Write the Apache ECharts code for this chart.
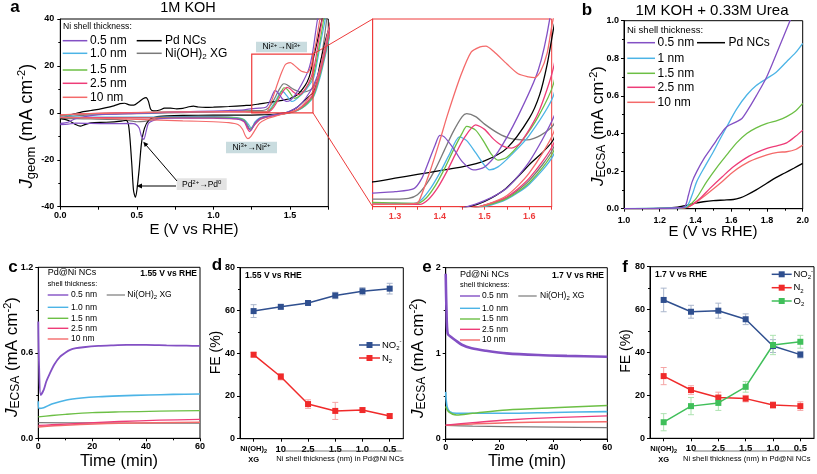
<!DOCTYPE html>
<html><head><meta charset="utf-8">
<script src="https://cdn.jsdelivr.net/npm/echarts@6/dist/echarts.min.js"></script>
<style>html,body{margin:0;padding:0;background:#fff}#c{width:817px;height:474px}</style>
</head><body><div id="c"></div>
<script>
// ---------------- DATA ----------------
// Panel a: CV curves (E in V vs RHE, J in mA cm-2), forward and reverse scans
const cvPdFwd = [[0,-1.8],[0.05,-1.2],[0.1,-0.3],[0.15,0.5],[0.2,1.0],[0.25,1.5],[0.3,2.2],[0.35,3.0],[0.39,3.9],[0.42,4.1],[0.45,3.4],[0.48,3.3],[0.51,4.5],[0.54,6.0],[0.56,6.5],[0.575,5.0],[0.59,1.5],[0.61,0.8],[0.65,1.2],[0.68,2.0],[0.72,2.0],[0.76,1.7],[0.8,1.9],[0.84,2.6],[0.87,2.9],[0.9,2.5],[0.95,2.3],[1.0,2.4],[1.1,2.7],[1.2,3.1],[1.25,3.3],[1.3,3.8],[1.35,4.3],[1.4,4.8],[1.45,5.3],[1.5,6.1],[1.55,7.8],[1.6,11.8],[1.623,14.9],[1.64,19],[1.655,24],[1.68,31],[1.71,40],[1.8,60]];
const cvPdRev = [[1.8,45],[1.74,33],[1.7,22],[1.655,9.1],[1.6,5.6],[1.547,2.4],[1.5,0.7],[1.465,0],[1.4,-0.6],[1.3,-0.9],[1.2,-1.0],[1.0,-1.0],[0.8,-1.1],[0.7,-1.3],[0.62,-1.8],[0.58,-3.0],[0.55,-6.5],[0.53,-13],[0.515,-24],[0.5,-33],[0.49,-36],[0.478,-33],[0.467,-22],[0.455,-11],[0.445,-5],[0.43,-3.2],[0.4,-3.5],[0.3,-4.0],[0.2,-4.3],[0.16,-5.0],[0.13,-5.7],[0.1,-5.0],[0.06,-3.5],[0.03,-2.8],[0,-2.5]];
const cvXgFwd = [[0,-2.0],[0.1,-1.3],[0.2,-0.9],[0.4,-0.5],[0.6,-0.2],[0.8,0.1],[1.0,0.4],[1.1,0.6],[1.2,0.9],[1.25,1.0],[1.3,1.0],[1.33,1.1],[1.35,1.6],[1.37,3.0],[1.39,5.0],[1.41,7.5],[1.43,10],[1.45,12],[1.46,12.4],[1.48,12.0],[1.5,11.0],[1.53,9.8],[1.557,9.1],[1.595,8.9],[1.625,9.5],[1.655,11],[1.69,18],[1.72,30],[1.74,40],[1.8,65]];
const cvXgRev = [[1.8,45],[1.75,33],[1.7,18],[1.655,8],[1.6,3.5],[1.55,1.2],[1.5,0.2],[1.45,-0.5],[1.4,-1.0],[1.35,-1.8],[1.3,-3.0],[1.27,-5.0],[1.25,-6.5],[1.235,-7],[1.22,-5.5],[1.2,-3.5],[1.15,-2.2],[1.1,-1.8],[1.0,-1.6],[0.8,-1.6],[0.65,-2.0],[0.6,-3.0],[0.55,-3.6],[0.5,-3.8],[0.45,-3.3],[0.35,-2.8],[0.2,-2.6],[0.1,-2.5],[0,-2.4]];
const cv05Fwd = [[0,-4.5],[0.05,-4.0],[0.1,-2.5],[0.2,-1.2],[0.3,-0.6],[0.5,-0.2],[0.7,0.2],[0.9,0.6],[1.1,1.0],[1.2,1.3],[1.25,1.8],[1.3,2.0],[1.342,2.4],[1.36,3.8],[1.375,6.0],[1.39,8.3],[1.40,9.5],[1.41,9.3],[1.43,7.8],[1.45,6.0],[1.475,4.9],[1.5,5.3],[1.53,7.3],[1.575,12.1],[1.62,18.2],[1.647,25.5],[1.68,40],[1.8,80]];
const cv05Rev = [[1.8,50],[1.75,35],[1.7,20],[1.655,12],[1.6,6],[1.55,2.5],[1.5,0.8],[1.45,-0.2],[1.4,-0.8],[1.35,-1.5],[1.3,-2.5],[1.27,-4.5],[1.25,-7.0],[1.24,-7.5],[1.225,-6],[1.2,-3.5],[1.15,-2.6],[1.0,-2.2],[0.8,-2.2],[0.65,-2.5],[0.6,-3.5],[0.575,-4.5],[0.56,-8],[0.545,-11.3],[0.53,-10],[0.515,-6.5],[0.49,-4.8],[0.46,-4.5],[0.3,-4.6],[0.1,-4.4],[0.05,-4.8],[0,-5.0]];
const cv10Fwd = [[0,-1.5],[0.1,-0.8],[0.3,-0.3],[0.6,0.1],[0.9,0.4],[1.1,0.5],[1.2,0.5],[1.3,0.45],[1.342,0.45],[1.36,1.0],[1.38,2.5],[1.40,4.5],[1.42,6.8],[1.444,9.3],[1.46,8.8],[1.48,7.2],[1.5,5.5],[1.511,4.9],[1.53,5.3],[1.56,6.9],[1.6,9.5],[1.655,15],[1.7,30],[1.73,40],[1.8,75]];
const cv10Rev = [[1.8,45],[1.75,30],[1.7,16],[1.655,7],[1.6,3],[1.55,1.0],[1.5,0],[1.45,-0.5],[1.4,-0.9],[1.35,-1.3],[1.3,-2.2],[1.27,-4],[1.255,-6],[1.245,-6.3],[1.23,-5],[1.2,-2.8],[1.15,-2.0],[1.0,-1.8],[0.7,-1.8],[0.4,-1.8],[0.2,-1.8],[0,-1.7]];
const cv15Fwd = [[0,-1.2],[0.1,-0.6],[0.3,-0.2],[0.6,0.2],[0.9,0.5],[1.2,0.6],[1.3,0.5],[1.35,0.45],[1.37,1.2],[1.39,2.8],[1.41,5],[1.43,7.5],[1.45,9.8],[1.46,10.7],[1.48,10.2],[1.5,8.5],[1.515,7],[1.53,6.2],[1.55,6.6],[1.58,8.5],[1.62,12],[1.655,16.6],[1.7,32],[1.72,40],[1.8,75]];
const cv15Rev = [[1.8,45],[1.75,31],[1.7,17],[1.655,7.5],[1.6,3.2],[1.55,1.1],[1.5,0.1],[1.45,-0.5],[1.4,-1.0],[1.35,-1.5],[1.3,-2.5],[1.27,-4.5],[1.25,-6.5],[1.24,-7],[1.225,-5.5],[1.2,-3],[1.15,-2.2],[1.0,-2],[0.7,-2],[0.4,-2],[0,-2]];
const cv25Fwd = [[0,-1.0],[0.1,-0.5],[0.3,-0.1],[0.6,0.2],[0.9,0.4],[1.2,0.4],[1.3,0.3],[1.355,0.3],[1.375,1.0],[1.395,2.5],[1.415,4.6],[1.435,7],[1.455,9.2],[1.48,10.9],[1.5,10.3],[1.52,9],[1.54,8.1],[1.56,7.8],[1.58,8.5],[1.62,12.5],[1.655,18.8],[1.69,32],[1.71,40],[1.8,80]];
const cv25Rev = [[1.8,48],[1.75,32],[1.7,18],[1.655,8.5],[1.6,3.8],[1.55,1.3],[1.5,0.2],[1.45,-0.5],[1.4,-1.1],[1.35,-1.7],[1.3,-2.8],[1.27,-5],[1.245,-7.5],[1.235,-8],[1.22,-6.5],[1.2,-3.8],[1.15,-2.6],[1.0,-2.3],[0.7,-2.2],[0.4,-2.1],[0,-2.0]];
const cv100Fwd = [[0,-0.8],[0.2,-0.3],[0.5,0.1],[0.8,0.4],[1.1,0.5],[1.25,0.35],[1.3,0.3],[1.342,0.4],[1.353,0.7],[1.378,4.7],[1.399,8.6],[1.417,12.2],[1.447,17.5],[1.47,20.6],[1.49,21.3],[1.503,21.4],[1.52,20.7],[1.55,19],[1.575,17.7],[1.598,17.3],[1.612,17.2],[1.625,18],[1.64,20.5],[1.65,24],[1.67,30],[1.695,40],[1.8,80]];
const cv100Rev = [[1.8,50],[1.75,35],[1.7,20],[1.655,10],[1.6,4.5],[1.55,1.5],[1.5,0.2],[1.45,-0.6],[1.4,-1.5],[1.35,-2.5],[1.3,-4.5],[1.27,-7.5],[1.245,-10],[1.225,-11],[1.21,-10],[1.19,-7],[1.16,-5],[1.1,-4.2],[1.0,-3.8],[0.8,-3.4],[0.6,-3.0],[0.4,-2.6],[0.2,-2.2],[0,-1.8]];

// Panel b: LSV with urea (E, J_ECSA)
const lsvPd = [[1.0,0],[1.2,0.002],[1.3,0.008],[1.341,0.016],[1.4,0.03],[1.444,0.037],[1.5,0.043],[1.56,0.046],[1.612,0.049],[1.65,0.058],[1.687,0.073],[1.74,0.1],[1.799,0.135],[1.85,0.165],[1.9,0.19],[1.95,0.215],[2.0,0.241]];
const lsv05 = [[1.0,0],[1.2,0.001],[1.3,0.005],[1.34,0.012],[1.36,0.07],[1.38,0.14],[1.407,0.197],[1.45,0.27],[1.5,0.339],[1.54,0.395],[1.575,0.436],[1.631,0.463],[1.66,0.48],[1.687,0.516],[1.74,0.6],[1.799,0.702],[1.86,0.84],[1.929,1.0],[1.96,1.07]];
const lsv10 = [[1.0,0],[1.3,0.005],[1.35,0.012],[1.38,0.07],[1.407,0.144],[1.45,0.22],[1.5,0.303],[1.54,0.375],[1.575,0.436],[1.63,0.53],[1.687,0.605],[1.74,0.655],[1.8,0.693],[1.85,0.725],[1.91,0.782],[1.96,0.83],[2.0,0.88]];
const lsv15 = [[1.0,0],[1.3,0.004],[1.35,0.01],[1.4,0.05],[1.463,0.144],[1.52,0.22],[1.575,0.286],[1.63,0.35],[1.687,0.40],[1.74,0.43],[1.8,0.454],[1.86,0.47],[1.91,0.49],[1.96,0.52],[2.0,0.56]];
const lsv25 = [[1.0,0],[1.3,0.003],[1.36,0.01],[1.42,0.05],[1.481,0.108],[1.55,0.17],[1.612,0.223],[1.7,0.28],[1.8,0.321],[1.86,0.335],[1.91,0.35],[1.96,0.385],[2.0,0.418]];
const lsv100 = [[1.0,0],[1.3,0.003],[1.36,0.01],[1.42,0.045],[1.48,0.09],[1.55,0.145],[1.612,0.197],[1.7,0.25],[1.8,0.286],[1.86,0.3],[1.91,0.303],[1.96,0.315],[2.0,0.339]];

// Panel c: chronoamperometry at 1.55 V (t min, J_ECSA)
const ca155_05 = [[0,0.82],[0.3,0.5],[0.9,0.304],[2,0.34],[3,0.40],[4.3,0.456],[6,0.52],[8.1,0.573],[10,0.60],[11.8,0.62],[14,0.632],[16.7,0.639],[22.3,0.648],[27,0.652],[32.8,0.655],[40,0.655],[47.6,0.652],[55,0.65],[60,0.648]];
const ca155_10 = [[0,0.26],[0.3,0.21],[2,0.215],[5,0.24],[10.5,0.269],[16,0.283],[22.3,0.292],[30,0.298],[40.9,0.304],[50,0.308],[60,0.311]];
const ca155_15 = [[0,0.15],[5,0.16],[10,0.168],[20,0.18],[30,0.185],[45,0.19],[60,0.194]];
const ca155_25 = [[0,0.09],[5,0.095],[15,0.105],[30,0.118],[45,0.127],[60,0.133]];
const ca155_100 = [[0,0.08],[10,0.092],[30,0.105],[60,0.112]];
const ca155_xg = [[0,0.11],[20,0.108],[40,0.107],[60,0.106]];

// Panel e: chronoamperometry at 1.7 V
const ca17_05 = [[0,1.93],[0.3,1.5],[0.74,1.23],[2,1.19],[3.45,1.156],[6,1.10],[9.65,1.059],[15,1.03],[22.7,1.0],[34.4,0.98],[45,0.97],[60,0.96]];
const ca17_10 = [[0,0.55],[0.5,0.38],[1.5,0.32],[4,0.30],[10,0.30],[22.7,0.30],[40,0.31],[60,0.32]];
const ca17_15 = [[0,0.38],[1,0.32],[4,0.28],[10,0.30],[22.7,0.34],[40,0.365],[60,0.39]];
const ca17_25 = [[0,0.163],[10,0.19],[22.7,0.222],[40,0.25],[60,0.27]];
const ca17_100 = [[0,0.16],[10,0.175],[22.7,0.19],[40,0.198],[60,0.20]];
const ca17_xg = [[0,0.16],[10,0.15],[22.7,0.144],[40,0.138],[60,0.132]];

// Panels d, f: Faradaic efficiency
const feCats = ['Ni(OH)2 XG','10','2.5','1.5','1.0','0.5'];
const feD_NO2 = [59.7,61.7,63.5,67.0,69.0,70.2];
const feD_NO2err = [3,1,1,1.5,1.7,2.5];
const feD_N2 = [39.3,29.0,16.2,13.0,13.4,10.6];
const feD_N2err = [1,1.5,2,4,1,1];
const feF_NO2 = [64.5,59,59.5,55.5,43,39];
const feF_NO2err = [5.5,3,3.5,2.5,3,1.5];
const feF_N2 = [29,22.5,19,18.5,15.5,15];
const feF_N2err = [4,2,2.5,1.5,1.5,2];
const feF_O2 = [7.5,15,16.5,24,43.5,45];
const feF_O2err = [4,4,3.5,2.5,4.5,3];

// ---------------- STYLE ----------------
const FONT = 'Liberation Sans, Arial, Helvetica, sans-serif';
const C05='#8350c4', C10='#4cb4e6', C15='#6cbf45', C25='#ee3c78', C100='#f46a6a', CPD='#000000', CXG='#7a7a7a';
const CNO2='#2f4f8f', CN2='#f02a2a', CO2='#40bf5a';
const ENO2='#aab6cc', EN2='#f5a5a5', EO2='#ade3b0';
const RED='#ee3b3b';

const G = {
  a:{left:60.3, top:19, width:268, height:187.7},
  i:{left:372.7, top:19, width:179, height:187.7},
  b:{left:624, top:20.7, width:178.7, height:188},
  c:{left:38.3, top:267.3, width:161.7, height:171},
  d:{left:240, top:267.7, width:163.3, height:171},
  e:{left:445.7, top:267.7, width:161.6, height:171.3},
  f:{left:650, top:266.7, width:164, height:171.6}
};
const order = ['a','i','b','c','d','e','f'];
const grids = order.map(k => Object.assign({show:true, borderColor: k==='i'?RED:'#000', borderWidth:1, backgroundColor:'transparent', containLabel:false}, G[k]));

const lblBase = {color:'#000', fontWeight:'bold', fontSize:9, fontFamily:FONT};
function vAxis(gi, o) {
  return Object.assign({
    gridIndex:gi, type:'value',
    axisLine:{show:true, onZero:false, lineStyle:{color:'#000', width:1}},
    axisTick:{show:true, length:3, lineStyle:{color:'#000'}},
    minorTick:{show:true, splitNumber:2, length:2, lineStyle:{color:'#000'}},
    splitLine:{show:false}, minorSplitLine:{show:false},
    axisLabel:Object.assign({margin:4}, lblBase)
  }, o);
}
const isMult = (v, s) => Math.abs(v/s - Math.round(v/s)) < 1e-6;

const catLabel = {
  margin:5, fontFamily:FONT, color:'#000', interval:0, hideOverlap:false,
  formatter:(v,i)=> i===0 ? '{s|Ni(OH)}{ss|2}\n{s|XG}' : '{b|'+v+'}',
  rich:{
    s:{fontSize:7.5, fontWeight:'bold', fontFamily:FONT, color:'#000', lineHeight:11},
    ss:{fontSize:5.5, fontWeight:'bold', fontFamily:FONT, color:'#000', lineHeight:11, verticalAlign:'bottom'},
    b:{fontSize:9.5, fontWeight:'bold', fontFamily:FONT, color:'#000', lineHeight:11}
  }
};
function cAxis(gi){
  return {gridIndex:gi, type:'category', data:feCats, boundaryGap:true,
    axisLine:{show:true, lineStyle:{color:'#000'}},
    axisTick:{show:true, alignWithLabel:true, interval:0, length:3, lineStyle:{color:'#000'}},
    axisLabel:catLabel, splitLine:{show:false}};
}

const xAxes = [
  vAxis(0,{min:0,max:1.75,interval:0.25,minorTick:{show:false},axisLabel:Object.assign({margin:4, formatter:v=>isMult(v,0.5)?v.toFixed(1):''},lblBase)}),
  vAxis(1,{min:1.25,max:1.65,interval:0.05,minorTick:{show:false},
    axisLine:{show:true,onZero:false,lineStyle:{color:RED}}, axisTick:{show:true,length:3,lineStyle:{color:RED}},
    axisLabel:Object.assign({}, lblBase, {color:RED, margin:5, formatter:v=>isMult(v,0.1)?v.toFixed(1):''})}),
  vAxis(2,{min:1,max:2,interval:0.2,axisLabel:Object.assign({margin:7, formatter:v=>v.toFixed(1)},lblBase)}),
  vAxis(3,{min:0,max:60,interval:20}),
  cAxis(4),
  vAxis(5,{min:0,max:60,interval:20}),
  cAxis(6)
];
const yAxes = [
  vAxis(0,{min:-40,max:40,interval:20,axisLabel:Object.assign({margin:6},lblBase)}),
  vAxis(1,{min:0,max:25,axisLine:{show:true,lineStyle:{color:RED}},axisTick:{show:false},minorTick:{show:false},axisLabel:{show:false}}),
  vAxis(2,{min:0,max:1,interval:0.2,axisLabel:Object.assign({margin:5, formatter:v=>v.toFixed(1)},lblBase)}),
  vAxis(3,{min:0,max:1.2,interval:0.6,axisLabel:Object.assign({margin:5, formatter:v=>v.toFixed(1)},lblBase)}),
  vAxis(4,{min:0,max:80,interval:20,axisLabel:Object.assign({margin:5},lblBase)}),
  vAxis(5,{min:0,max:2,interval:1,axisLabel:Object.assign({margin:5},lblBase)}),
  vAxis(6,{min:0,max:80,interval:20,axisLabel:Object.assign({margin:5},lblBase)})
];

function ln(ax, data, color, w, sm) {
  return {type:'line', xAxisIndex:ax, yAxisIndex:ax, data:data, showSymbol:false, symbol:'none',
    smooth: sm===undefined?0.3:sm, clip:true, lineStyle:{color:color, width:w||1.2}, itemStyle:{color:color},
    animation:false, silent:true, z:3};
}
const cvList = [
  [cvXgFwd,cvXgRev,CXG],[cvPdFwd,cvPdRev,CPD],[cv10Fwd,cv10Rev,C10],[cv15Fwd,cv15Rev,C15],
  [cv25Fwd,cv25Rev,C25],[cv05Fwd,cv05Rev,C05],[cv100Fwd,cv100Rev,C100]
];
const series = [];
cvList.forEach(c => { const d = c[0].concat(c[1]); series.push(ln(0,d,c[2],1.2,0.25)); series.push(ln(1,d,c[2],1.3,0.25)); });
[[lsvPd,CPD],[lsv100,C100],[lsv25,C25],[lsv15,C15],[lsv10,C10],[lsv05,C05]].forEach(s=>series.push(ln(2,s[0],s[1],1.3)));
[[ca155_xg,CXG,1.2],[ca155_100,C100,1.5],[ca155_25,C25,1.3],[ca155_15,C15,1.3],[ca155_10,C10,1.6],[ca155_05,C05,1.8]].forEach(s=>series.push(ln(3,s[0],s[1],s[2])));
[[ca17_xg,CXG,1.2],[ca17_100,C100,1.5],[ca17_25,C25,1.3],[ca17_10,C10,1.6],[ca17_15,C15,1.5],[ca17_05,C05,2.6]].forEach(s=>series.push(ln(5,s[0],s[1],s[2])));

function errS(ax, vals, errs, color){
  return {type:'custom', xAxisIndex:ax, yAxisIndex:ax, silent:true, animation:false, z:2,
    data: vals.map((v,i)=>[i, v-errs[i], v+errs[i]]),
    renderItem:(p, api)=>{
      const x=api.value(0), p1=api.coord([x,api.value(1)]), p2=api.coord([x,api.value(2)]), w=3;
      const st={stroke:color, lineWidth:1};
      return {type:'group', children:[
        {type:'line', shape:{x1:p1[0],y1:p1[1],x2:p2[0],y2:p2[1]}, style:st},
        {type:'line', shape:{x1:p1[0]-w,y1:p1[1],x2:p1[0]+w,y2:p1[1]}, style:st},
        {type:'line', shape:{x1:p2[0]-w,y1:p2[1],x2:p2[0]+w,y2:p2[1]}, style:st}
      ]};
    }};
}
function feS(ax, vals, color){
  return {type:'line', xAxisIndex:ax, yAxisIndex:ax, data:vals, symbol:'rect', symbolSize:6, showSymbol:true,
    lineStyle:{color:color,width:1.5}, itemStyle:{color:color}, animation:false, silent:true, z:4};
}
series.push(errS(4,feD_NO2,feD_NO2err,ENO2), errS(4,feD_N2,feD_N2err,EN2));
series.push(feS(4,feD_NO2,CNO2), feS(4,feD_N2,CN2));
series.push(errS(6,feF_NO2,feF_NO2err,ENO2), errS(6,feF_N2,feF_N2err,EN2), errS(6,feF_O2,feF_O2err,EO2));
series.push(feS(6,feF_NO2,CNO2), feS(6,feF_N2,CN2), feS(6,feF_O2,CO2));

// ---------------- GRAPHICS (text, legends, annotations) ----------------
const gr = [];
function T(x,y,text,o){ gr.push({type:'text', x:x, y:y, z:100, silent:true, style:Object.assign({text:text, fill:'#000', fontFamily:FONT, fontSize:12, align:'left', verticalAlign:'middle'}, o||{})}); }
function L(x1,y1,x2,y2,c,w){ gr.push({type:'line', z:100, silent:true, shape:{x1:x1,y1:y1,x2:x2,y2:y2}, style:{stroke:c, lineWidth:w||1.3}}); }
function P(pts,c){ gr.push({type:'polygon', z:100, silent:true, shape:{points:pts}, style:{fill:c}}); }
function SQ(x,y,c){ gr.push({type:'rect', z:101, silent:true, shape:{x:x-3,y:y-3,width:6,height:6}, style:{fill:c}}); }
const subRich = (fs) => ({
  n:{fontSize:fs, fontFamily:FONT, fill:'#000', lineHeight:fs+3},
  s:{fontSize:Math.round(fs*0.68), fontFamily:FONT, fill:'#000', lineHeight:fs+3, verticalAlign:'bottom'},
  p:{fontSize:Math.round(fs*0.68), fontFamily:FONT, fill:'#000', lineHeight:fs+3, verticalAlign:'top'},
  j:{fontSize:fs, fontFamily:FONT, fontStyle:'italic', fill:'#000', lineHeight:fs+3}
});

// panel letters
[['a',15,7],['b',587,10],['c',13,267],['d',217,265],['e',427,267],['f',625,267]].forEach(a=>T(a[1],a[2],a[0],{fontSize:17,fontWeight:'bold',align:'center'}));
// titles
T(188,8,'1M KOH',{fontSize:14.5,align:'center'});
T(712,11,'1M KOH + 0.33M Urea',{fontSize:15,align:'center'});
// x axis titles
T(194,230,'E (V vs RHE)',{fontSize:15,align:'center'});
T(713,232,'E (V vs RHE)',{fontSize:15,align:'center'});
T(119,461,'Time (min)',{fontSize:16.5,align:'center'});
T(527,461,'Time (min)',{fontSize:16.5,align:'center'});
// y axis titles (rotated)
function YT(x,y,text,rich){ gr.push({type:'text', x:x, y:y, rotation:Math.PI/2, z:100, silent:true, style:{text:text, rich:rich, fill:'#000', fontFamily:FONT, align:'center', verticalAlign:'middle'}}); }
const yr = subRich(17); yr.s.fontSize=12; yr.p.fontSize=11;
const yrA = subRich(18); yrA.s.fontSize=13; yrA.p.fontSize=11;
YT(27,126,'{j|J}{s|geom}{n| (mA cm}{p|-2}{n|)}',yrA);
YT(598,126,'{j|J}{s|ECSA}{n| (mA cm}{p|-2}{n|)}',yr);
YT(12,357,'{j|J}{s|ECSA}{n| (mA cm}{p|-2}{n|)}',yr);
YT(418,358,'{j|J}{s|ECSA}{n| (mA cm}{p|-2}{n|)}',yr);
const yrF = subRich(14);
YT(216,352.5,'{n|FE (%)}',yrF);
YT(626,351,'{n|FE (%)}',yrF);

// panel a legend
T(63,27,'Ni shell thickness:',{fontSize:8.6});
[['0.5 nm',C05,40.7],['1.0 nm',C10,53.3],['1.5 nm',C15,70],['2.5 nm',C25,83.3],['10 nm',C100,97.3]].forEach(r=>{L(62.7,r[2],87.3,r[2],r[1],1.5); T(90,r[2],r[0],{fontSize:12});});
L(136.7,40.7,161.7,40.7,CPD,1.5); T(165,40.7,'Pd NCs',{fontSize:12});
L(136.7,53.3,161.7,53.3,CXG,1.5); T(165,53.3,'{n|Ni(OH)}{s|2}{n| XG}',{rich:subRich(12)});
// panel a annotations
const boxRich = ()=>({n:{fontSize:8.5,fontFamily:FONT,fill:'#000',lineHeight:10},p:{fontSize:6,fontFamily:FONT,fill:'#000',lineHeight:10,verticalAlign:'top'}});
gr.push({type:'rect',z:99,silent:true,shape:{x:256,y:41.7,width:51,height:10.5},style:{fill:'#c9dcdf'}});
T(281.5,47,'{n|Ni}{p|2+}{n|→Ni}{p|3+}',{align:'center',rich:boxRich()});
gr.push({type:'rect',z:99,silent:true,shape:{x:226,y:141.7,width:51,height:11.5},style:{fill:'#c9dcdf'}});
T(251.5,147.5,'{n|Ni}{p|3+}{n|→Ni}{p|2+}',{align:'center',rich:boxRich()});
gr.push({type:'rect',z:99,silent:true,shape:{x:176.7,y:178.3,width:50,height:11.7},style:{fill:'#e3e3e3'}});
T(201.7,184.3,'{n|Pd}{p|2+}{n|→Pd}{p|0}',{align:'center',rich:boxRich()});
L(176,186,140,186,'#000',1); P([[136.5,186],[142,183.6],[142,188.4]],'#000');
L(177,181,146,145,'#000',1); P([[143.3,141.7],[148.4,143.9],[144.7,147.1]],'#000');
// zoom box and connectors
const ax = v => G.a.left + v/1.75*G.a.width;
const ay = v => G.a.top + (40-v)/80*G.a.height;
gr.push({type:'rect',z:100,silent:true,shape:{x:ax(1.25),y:ay(25),width:ax(1.65)-ax(1.25),height:ay(0)-ay(25)},style:{fill:'none',stroke:RED,lineWidth:1.2}});
L(ax(1.65),ay(25),G.i.left,G.i.top,RED,1);
L(ax(1.65),ay(0),G.i.left,G.i.top+G.i.height,RED,1);

// panel b legend
T(627,30,'Ni shell thickness:',{fontSize:9.5});
[['0.5 nm',C05,42.7],['1 nm',C10,58.3],['1.5 nm',C15,73.3],['2.5 nm',C25,87.3],['10 nm',C100,102.3]].forEach(r=>{L(627.3,r[2],655,r[2],r[1],1.5); T(657.5,r[2],r[0],{fontSize:12});});
L(697,42.7,725,42.7,CPD,1.5); T(728.5,42.7,'Pd NCs',{fontSize:12});

// panel c / e legends
function caLegend(x0, x1, tx, rows, xgL, xgT, y0, yS, volt, vx){
  T(x0,y0,'Pd@Ni NCs',{fontSize:9});
  T(x0,yS,'shell thickness:',{fontSize:7.3});
  [['0.5 nm',C05],['1.0 nm',C10],['1.5 nm',C15],['2.5 nm',C25],['10 nm',C100]].forEach((r,i)=>{L(x0,rows[i],x1,rows[i],r[1],1.4); T(tx,rows[i],r[0],{fontSize:8.5});});
  L(xgL[0],rows[0],xgL[1],rows[0],CXG,1.2); T(xgT,rows[0],'{n|Ni(OH)}{s|2}{n| XG}',{rich:subRich(8.5)});
  T(vx,y0+1,volt,{fontSize:8.5,fontWeight:'bold',align:'right'});
}
caLegend(47.7,68.3,71,[295,307.3,318.3,328.3,339],[106.7,125],127.3,273,284,'1.55 V vs RHE',197);
caLegend(460,480,482,[296,308.3,319,329.3,340],[518.3,536.7],540,274.3,285,'1.7 V vs RHE',604);

// panel d texts
T(245,276,'1.55 V vs RHE',{fontSize:8.5,fontWeight:'bold'});
const lgR = subRich(9.5);
L(359,345,380,345,CNO2,1.5); SQ(369.5,345,CNO2); T(382,345,'{n|NO}{s|2}{p|-}',{rich:lgR});
L(359,358,380,358,CN2,1.5); SQ(369.5,358,CN2); T(382,358,'{n|N}{s|2}',{rich:lgR});
L(285,451,401.7,451,'#555',0.8); T(340,458.5,'Ni shell thickness (nm) in Pd@Ni NCs',{fontSize:7.6,align:'center'});
// panel f texts
T(655,275,'1.7 V vs RHE',{fontSize:8.5,fontWeight:'bold'});
L(771.7,274.3,791.7,274.3,CNO2,1.5); SQ(781.7,274.3,CNO2); T(793.5,274.3,'{n|NO}{s|2}{p|-}',{rich:lgR});
L(771.7,287.7,791.7,287.7,CN2,1.5); SQ(781.7,287.7,CN2); T(793.5,287.7,'{n|N}{s|2}',{rich:lgR});
L(771.7,301,791.7,301,CO2,1.5); SQ(781.7,301,CO2); T(793.5,301,'{n|O}{s|2}',{rich:lgR});
L(693.3,451,802.7,451,'#555',0.8); T(746.7,458.5,'Ni shell thickness (nm) in Pd@Ni NCs',{fontSize:7.6,align:'center'});

const chart = echarts.init(document.getElementById('c'), null, {renderer:'canvas'});
chart.setOption({
  animation:false, backgroundColor:'#fff',
  grid:grids, xAxis:xAxes, yAxis:yAxes, series:series,
  graphic:{elements:gr}
});
</script></body></html>
